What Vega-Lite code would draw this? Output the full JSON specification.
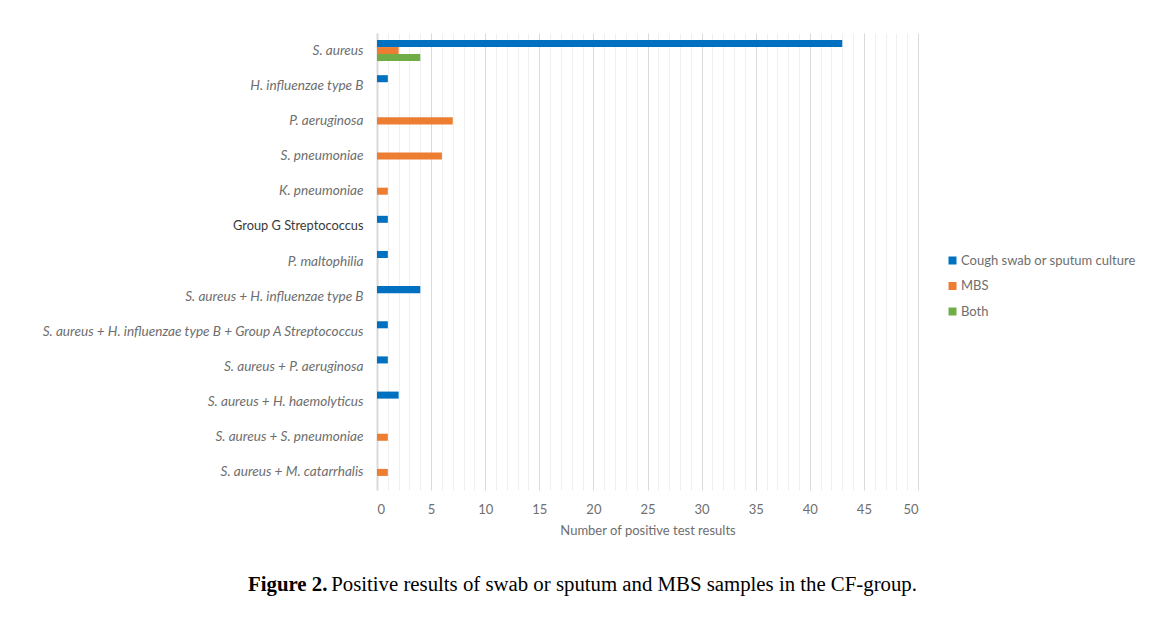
{
  "$schema": "https://vega.github.io/schema/vega-lite/v6.json",
  "autosize": "none",
  "width": 541,
  "height": 457,
  "padding": {"left": 377, "top": 33, "right": 249, "bottom": 131},
  "background": "white",
  "data": {
    "values": [
      {"organism": "S. aureus", "series": "Cough swab or sputum culture", "count": 43},
      {"organism": "S. aureus", "series": "MBS", "count": 2},
      {"organism": "S. aureus", "series": "Both", "count": 4},
      {"organism": "H. influenzae type B", "series": "Cough swab or sputum culture", "count": 1},
      {"organism": "P. aeruginosa", "series": "MBS", "count": 7},
      {"organism": "S. pneumoniae", "series": "MBS", "count": 6},
      {"organism": "K. pneumoniae", "series": "MBS", "count": 1},
      {"organism": "Group G Streptococcus", "series": "Cough swab or sputum culture", "count": 1},
      {"organism": "P. maltophilia", "series": "Cough swab or sputum culture", "count": 1},
      {"organism": "S. aureus + H. influenzae type B", "series": "Cough swab or sputum culture", "count": 4},
      {"organism": "S. aureus + H. influenzae type B + Group A Streptococcus", "series": "Cough swab or sputum culture", "count": 1},
      {"organism": "S. aureus + P. aeruginosa", "series": "Cough swab or sputum culture", "count": 1},
      {"organism": "S. aureus + H. haemolyticus", "series": "Cough swab or sputum culture", "count": 2},
      {"organism": "S. aureus + S. pneumoniae", "series": "MBS", "count": 1},
      {"organism": "S. aureus + M. catarrhalis", "series": "MBS", "count": 1}
    ]
  },
  "title": {
    "text": "Figure 2.",
    "subtitle": "\u200b\u00a0\u00a0\u00a0\u00a0\u00a0\u00a0\u00a0\u00a0\u00a0\u00a0\u00a0\u00a0\u00a0\u00a0\u00a0\u00a0Positive results of swab or sputum and MBS samples in the CF-group.",
    "orient": "bottom",
    "anchor": "start",
    "frame": "group",
    "dx": -129,
    "offset": 38,
    "font": "Liberation Serif",
    "fontSize": 20.8,
    "fontWeight": "bold",
    "color": "#000000",
    "subtitleFont": "Liberation Serif",
    "subtitleFontSize": 20.8,
    "subtitleFontWeight": "normal",
    "subtitleColor": "#000000",
    "subtitlePadding": -20.8
  },
  "mark": {"type": "bar"},
  "encoding": {
    "y": {
      "field": "organism",
      "type": "nominal",
      "sort": [
        "S. aureus",
        "H. influenzae type B",
        "P. aeruginosa",
        "S. pneumoniae",
        "K. pneumoniae",
        "Group G Streptococcus",
        "P. maltophilia",
        "S. aureus + H. influenzae type B",
        "S. aureus + H. influenzae type B + Group A Streptococcus",
        "S. aureus + P. aeruginosa",
        "S. aureus + H. haemolyticus",
        "S. aureus + S. pneumoniae",
        "S. aureus + M. catarrhalis"
      ],
      "scale": {"paddingInner": 0.4, "paddingOuter": 0.2},
      "axis": {
        "title": null,
        "domain": false,
        "ticks": false,
        "grid": false,
        "labelFont": "Lato",
        "labelFontSize": {"condition": {"test": "datum.value === 'Group G Streptococcus'", "value": 12.8}, "value": 13.6},
        "labelPadding": 14,
        "labelLimit": 400,
        "labelFontStyle": {"condition": {"test": "datum.value === 'Group G Streptococcus'", "value": "normal"}, "value": "italic"},
        "labelColor": {"condition": {"test": "datum.value === 'Group G Streptococcus'", "value": "#3a3a3a"}, "value": "#6e6e6e"}
      }
    },
    "yOffset": {
      "field": "series",
      "type": "nominal",
      "scale": {"domain": ["Cough swab or sputum culture", "MBS", "Both"], "paddingInner": 0, "paddingOuter": 0}
    },
    "x": {
      "field": "count",
      "type": "quantitative",
      "scale": {"domain": [0, 50], "nice": false},
      "axis": {
        "title": "Number of positive test results",
        "values": [0,1,2,3,4,5,6,7,8,9,10,11,12,13,14,15,16,17,18,19,20,21,22,23,24,25,26,27,28,29,30,31,32,33,34,35,36,37,38,39,40,41,42,43,44,45,46,47,48,49,50],
        "labelExpr": "datum.value % 5 === 0 ? datum.label : ''",
        "domain": false,
        "ticks": false,
        "grid": true,
        "gridColor": {"condition": {"test": "datum.value % 5 === 0", "value": "#d9d9d9"}, "value": "#f0f0f0"},
        "gridWidth": {"condition": {"test": "datum.value === 0", "value": 2}, "value": 1},
        "labelFont": "Lato",
        "labelFontSize": 13,
        "labelColor": "#6e6e6e",
        "labelPadding": 13,
        "labelOverlap": false,
        "titleFont": "Lato",
        "titleFontSize": 13,
        "titleFontWeight": "normal",
        "titleColor": "#6e6e6e",
        "titlePadding": 8
      }
    },
    "color": {
      "field": "series",
      "type": "nominal",
      "scale": {"domain": ["Cough swab or sputum culture", "MBS", "Both"], "range": ["#0070c0", "#ed7d31", "#70ad47"]},
      "legend": {
        "title": null,
        "orient": "none",
        "legendX": 569,
        "legendY": 221,
        "symbolType": "square",
        "symbolSize": 64,
        "symbolStrokeWidth": 0,
        "labelFont": "Lato",
        "labelFontSize": 13,
        "labelLimit": 300,
        "labelColor": "#6e6e6e",
        "labelOffset": 2,
        "rowPadding": 11.5
      }
    }
  },
  "config": {
    "view": {"stroke": null}
  }
}
